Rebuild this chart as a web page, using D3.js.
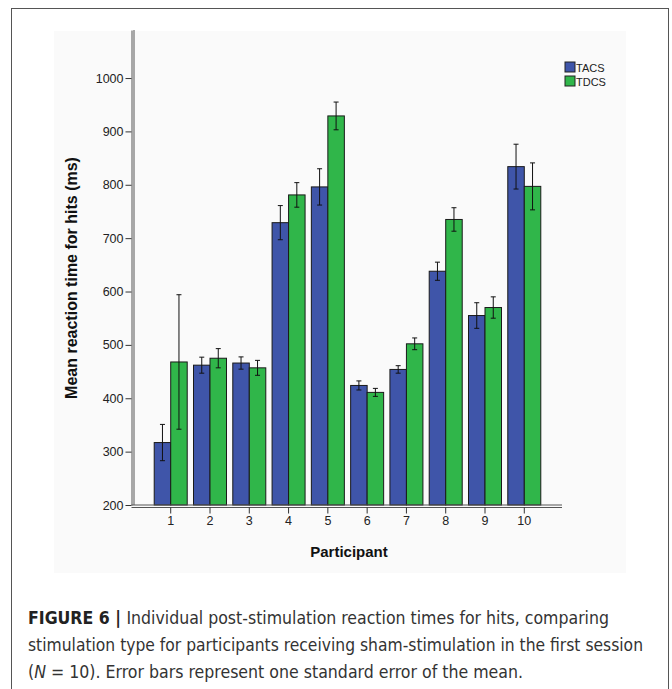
<!DOCTYPE html>
<html>
<head>
<meta charset="utf-8">
<script src="https://cdn.jsdelivr.net/npm/d3@7/dist/d3.min.js"></script>
<style>
  html, body { margin: 0; padding: 0; background: #fff; }
  svg { display: block; }
  .chart-text { font-family: "Liberation Sans", Arial, Helvetica, sans-serif; }
  .caption-text { font-family: "Liberation Sans Narrow", "DejaVu Sans Condensed", "Liberation Sans", Arial, sans-serif; }
</style>
</head>
<body>
<svg id="fig" width="672" height="689"></svg>
<script>
// Mean reaction time for hits (ms) per participant, with standard errors
const participants = ["1", "2", "3", "4", "5", "6", "7", "8", "9", "10"];
const seriesNames = ["TACS", "TDCS"];
const tacsMean = [317, 462, 466, 729, 796, 424, 454, 638, 555, 834];
const tacsSE   = [34, 15, 11.5, 32, 34, 8.5, 7, 17, 24, 42];
const tdcsMean = [468, 475, 457, 781, 929, 411, 502, 735, 570, 797];
const tdcsSE   = [126, 18, 14, 23, 26, 7.5, 11, 22, 20, 44];
const yTicks = [200, 300, 400, 500, 600, 700, 800, 900, 1000];

const colors = { TACS: "#3f55a9", TDCS: "#30b64a" };

const svg = d3.select("#fig");

// Outer figure frame
svg.append("rect")
  .attr("x", 11.5).attr("y", 8.5)
  .attr("width", 657).attr("height", 700)
  .attr("fill", "#fff").attr("stroke", "#555").attr("stroke-width", 1);

// Light chart panel
svg.append("rect")
  .attr("x", 54).attr("y", 31)
  .attr("width", 572).attr("height", 542)
  .attr("fill", "#fafafa");

// Scales
const plotLeft = 134, plotRight = 562, plotBottom = 505, plotTop = 30;
const x = d3.scaleBand().domain(participants)
  .range([plotLeft - 1, plotRight])
  .paddingInner(0.16).paddingOuter(0.54);
const xSub = d3.scaleBand().domain(seriesNames).range([0, x.bandwidth()]);
const y = d3.scaleLinear().domain([200, 1090]).range([plotBottom, plotTop]);

// Rows of data
const rows = participants.map((p, i) => ({
  p,
  vals: [
    { s: "TACS", m: tacsMean[i], se: tacsSE[i] },
    { s: "TDCS", m: tdcsMean[i], se: tdcsSE[i] }
  ]
}));

// Bars
const groups = svg.append("g").selectAll("g")
  .data(rows).join("g")
  .attr("transform", d => `translate(${x(d.p)},0)`);

groups.selectAll("rect")
  .data(d => d.vals).join("rect")
  .attr("x", d => xSub(d.s))
  .attr("y", d => y(d.m))
  .attr("width", xSub.bandwidth())
  .attr("height", d => y(200) - y(d.m))
  .attr("fill", d => colors[d.s])
  .attr("stroke", "#1a1a1a")
  .attr("stroke-width", 1);

// Error bars (mean ± 1 SE)
const err = groups.selectAll("g.err")
  .data(d => d.vals).join("g").attr("class", "err")
  .attr("transform", d => `translate(${xSub(d.s) + xSub.bandwidth() / 2},0)`)
  .attr("stroke", "#111").attr("stroke-width", 1);
err.append("line")
  .attr("x1", 0).attr("x2", 0)
  .attr("y1", d => y(d.m + d.se)).attr("y2", d => y(d.m - d.se));
err.append("line")
  .attr("x1", -2.5).attr("x2", 2.5)
  .attr("y1", d => y(d.m + d.se)).attr("y2", d => y(d.m + d.se));
err.append("line")
  .attr("x1", -2.5).attr("x2", 2.5)
  .attr("y1", d => y(d.m - d.se)).attr("y2", d => y(d.m - d.se));

// Y axis (double rule)
const yAxis = svg.append("g")
  .attr("transform", `translate(${plotLeft - 2.5},0)`)
  .call(d3.axisLeft(y).tickValues(yTicks).tickFormat(d3.format("d")).tickSize(6).tickSizeOuter(0));
yAxis.attr("font-family", null);
yAxis.select(".domain").attr("stroke", "#555");
yAxis.selectAll(".tick line").attr("stroke", "#333");
yAxis.selectAll(".tick text")
  .attr("class", "chart-text").attr("font-size", 12.5)
  .attr("fill", "#222").attr("x", -8);
svg.append("line")
  .attr("x1", plotLeft).attr("x2", plotLeft)
  .attr("y1", plotTop).attr("y2", plotBottom)
  .attr("stroke", "#555");

// X axis (double rule)
svg.append("line")
  .attr("x1", plotLeft - 2.5).attr("x2", plotRight)
  .attr("y1", plotBottom).attr("y2", plotBottom)
  .attr("stroke", "#555");
const xAxis = svg.append("g")
  .attr("transform", `translate(0,${plotBottom + 2.5})`)
  .call(d3.axisBottom(x).tickSize(6).tickSizeOuter(0));
xAxis.attr("font-family", null);
xAxis.select(".domain").attr("stroke", "#555")
  .attr("d", `M${plotLeft - 2.5},0H${plotRight}`);
xAxis.selectAll(".tick line").attr("stroke", "#333");
xAxis.selectAll(".tick text")
  .attr("class", "chart-text").attr("font-size", 12.5)
  .attr("fill", "#222").attr("y", 9);

// Axis titles
svg.append("text")
  .attr("class", "chart-text")
  .attr("transform", "translate(77,278) rotate(-90)")
  .attr("text-anchor", "middle")
  .attr("font-size", 16).attr("font-weight", "bold")
  .attr("fill", "#111")
  .text("Mean reaction time for hits (ms)");
svg.append("text")
  .attr("class", "chart-text")
  .attr("x", 349).attr("y", 557)
  .attr("text-anchor", "middle")
  .attr("font-size", 15).attr("font-weight", "bold")
  .attr("fill", "#111")
  .text("Participant");

// Legend
const legend = svg.append("g").attr("transform", "translate(565,62)");
seriesNames.forEach((s, i) => {
  const g = legend.append("g").attr("transform", `translate(0,${i * 14})`);
  g.append("rect").attr("width", 10).attr("height", 10)
    .attr("fill", colors[s]).attr("stroke", "#222").attr("stroke-width", 1);
  g.append("text").attr("class", "chart-text").attr("x", 11).attr("y", 9.5)
    .attr("font-size", 11).attr("fill", "#222")
    .text(s);
});

// Caption
const cap = svg.append("g").attr("font-size", 17).attr("fill", "#333");
const l1 = cap.append("text").attr("class", "caption-text").attr("x", 28).attr("y", 624)
  .attr("textLength", 581).attr("lengthAdjust", "spacingAndGlyphs");
l1.append("tspan").attr("font-weight", "bold").attr("fill", "#222").text("FIGURE 6 | ");
l1.append("tspan").text("Individual post-stimulation reaction times for hits, comparing");
cap.append("text").attr("class", "caption-text").attr("x", 28).attr("y", 651)
  .attr("textLength", 615).attr("lengthAdjust", "spacingAndGlyphs")
  .text("stimulation type for participants receiving sham-stimulation in the first session");
const l3 = cap.append("text").attr("class", "caption-text").attr("x", 28).attr("y", 678)
  .attr("textLength", 495).attr("lengthAdjust", "spacingAndGlyphs");
l3.append("tspan").text("(");
l3.append("tspan").attr("font-style", "italic").text("N");
l3.append("tspan").text(" = 10). Error bars represent one standard error of the mean.");
</script>
</body>
</html>
